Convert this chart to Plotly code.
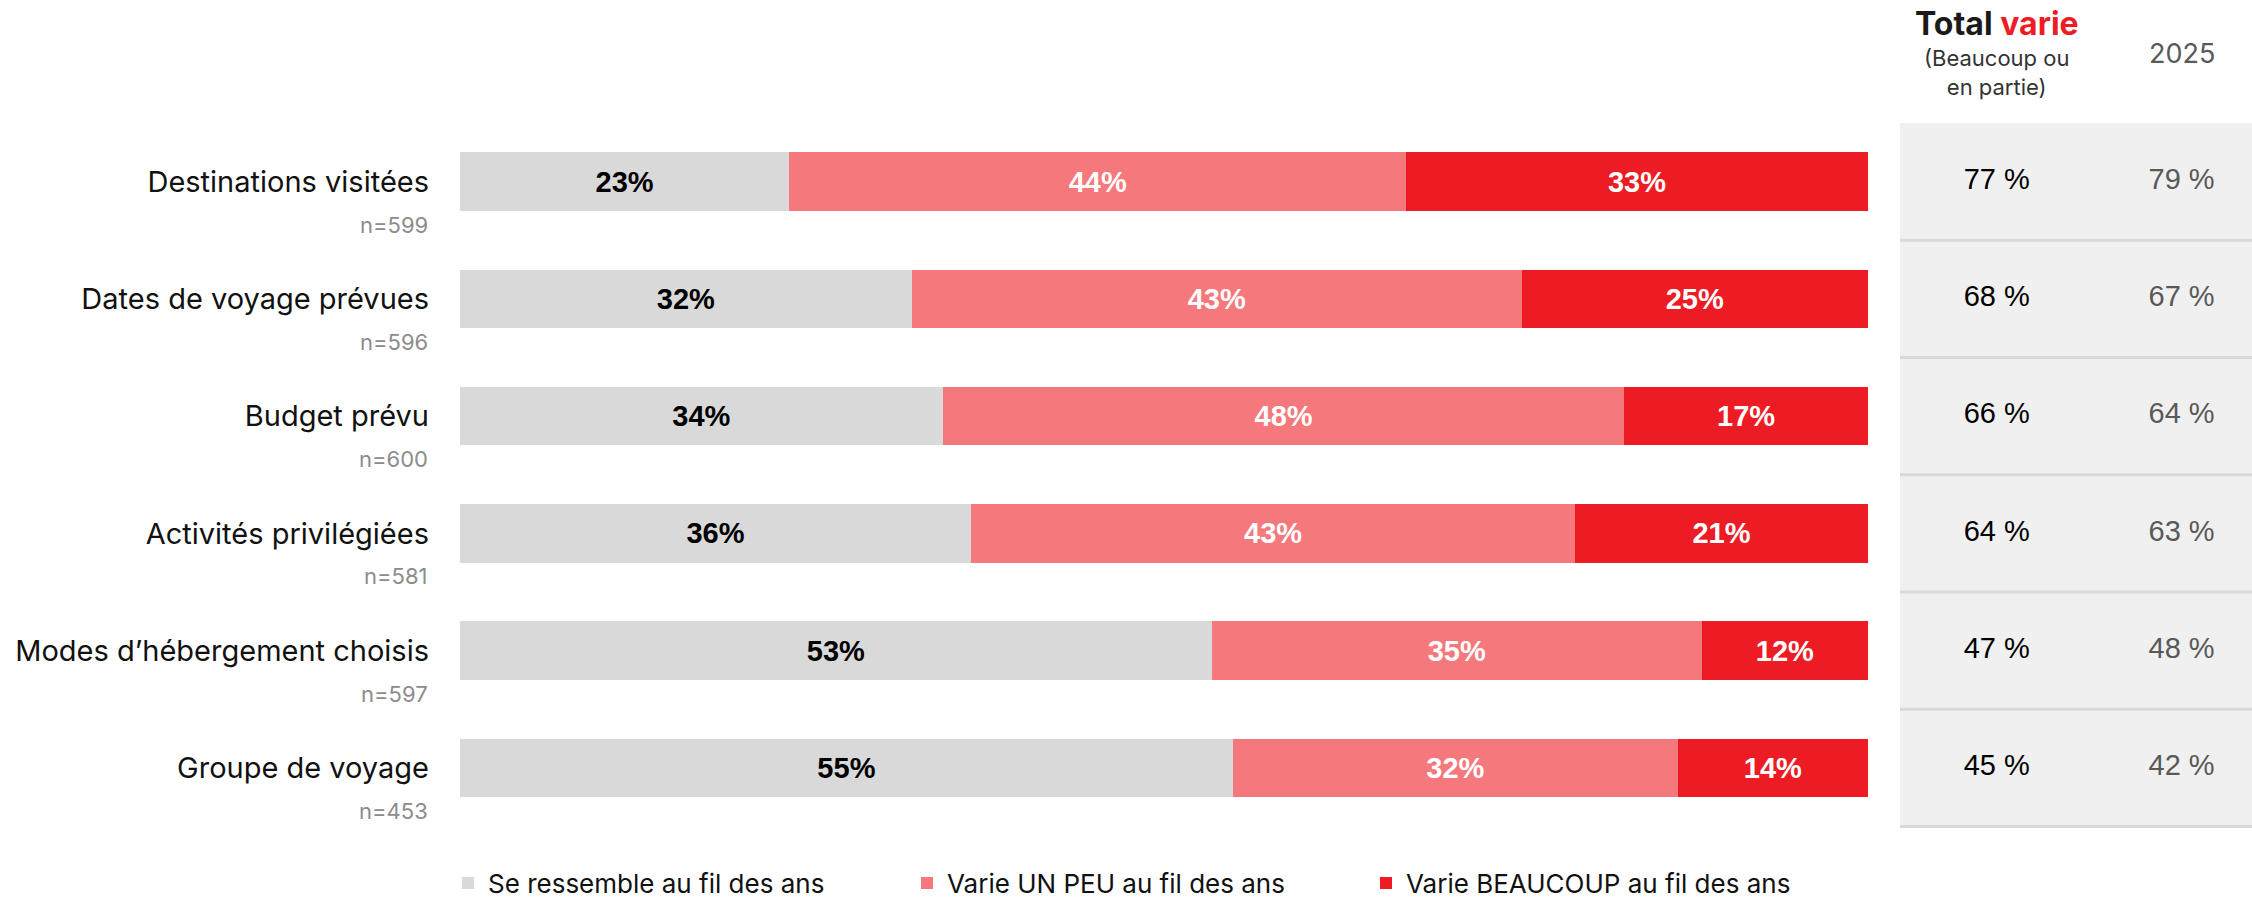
import plotly.graph_objects as go

W, H = 2252, 901
T, B = 123, 73

categories = ["Destinations visitées", "Dates de voyage prévues", "Budget prévu",
              "Activités privilégiées", "Modes d’hébergement choisis", "Groupe de voyage"]
sample_n = ["n=599", "n=596", "n=600", "n=581", "n=597", "n=453"]
se_ressemble = [23.4, 32.1, 34.3, 36.3, 53.4, 54.9]
varie_peu = [43.8, 43.3, 48.4, 42.9, 34.8, 31.6]
varie_beaucoup = [32.8, 24.6, 17.3, 20.8, 11.8, 13.5]
total_varie = [77, 68, 66, 64, 47, 45]
total_2025 = [79, 67, 64, 63, 48, 42]
series_names = ["Se ressemble au fil des ans", "Varie UN PEU au fil des ans",
                "Varie BEAUCOUP au fil des ans"]
colors = ["#d9d9d9", "#f4787c", "#ed1c24"]
text_colors = ["#000000", "#ffffff", "#ffffff"]

LABEL_FONT = "Inter"
NUM_FONT = "Liberation Sans, Arial"


def py(px):
    return (H - B - px) / (H - T - B)


fig = go.Figure()
for vals, name, col, tcol in zip([se_ressemble, varie_peu, varie_beaucoup],
                                 series_names, colors, text_colors):
    fig.add_trace(go.Bar(
        x=vals, y=categories, orientation="h", name=name,
        marker=dict(color=col, line=dict(width=0)),
        texttemplate="<b>%{x:.0f}%</b>", textposition="inside",
        insidetextanchor="middle", constraintext="none",
        textfont=dict(family=NUM_FONT, size=29, color=tcol),
        width=0.5, hoverinfo="skip",
    ))

# table columns
fig.add_trace(go.Scatter(
    x=[0.275] * len(categories), y=categories, mode="text",
    text=[f"{v} %" for v in total_varie], xaxis="x2", yaxis="y",
    textfont=dict(family=NUM_FONT, size=29, color="#000000"),
    showlegend=False, hoverinfo="skip"))
fig.add_trace(go.Scatter(
    x=[0.80] * len(categories), y=categories, mode="text",
    text=[f"{v} %" for v in total_2025], xaxis="x2", yaxis="y",
    textfont=dict(family=NUM_FONT, size=29, color="#595959"),
    showlegend=False, hoverinfo="skip"))

shapes = [dict(type="rect", xref="x2 domain", yref="y domain", x0=0, x1=1, y0=0, y1=1,
               fillcolor="#f0f0f0", line=dict(width=0), layer="below")]
for i in range(len(categories)):
    shapes.append(dict(type="line", xref="x2 domain", yref="y", x0=0, x1=1,
                       y0=i + 0.5, y1=i + 0.5, line=dict(color="#d9d9d9", width=3),
                       layer="below"))

annotations = []
for c, n in zip(categories, sample_n):
    annotations.append(dict(x=430 / W, xref="paper", xanchor="right", y=c, yref="y",
                            yshift=-43, text=n, showarrow=False,
                            font=dict(family=LABEL_FONT, size=22, color="#8c8c8c")))
annotations += [
    dict(x=0.275, xref="x2", y=py(23), yref="paper", yanchor="middle", showarrow=False,
         text="<b>Total <span style='color:#ee1c25'>varie</span></b>",
         font=dict(family=LABEL_FONT, size=32, color="#1a1a1a")),
    dict(x=0.275, xref="x2", y=py(72), yref="paper", yanchor="middle", showarrow=False,
         text="(Beaucoup ou<br>en partie)",
         font=dict(family=LABEL_FONT, size=22, color="#333333")),
    dict(x=0.80, xref="x2", y=py(53), yref="paper", yanchor="middle", showarrow=False,
         text="2025", font=dict(family=LABEL_FONT, size=27, color="#595959")),
]

fig.update_layout(
    width=W, height=H, barmode="stack", bargap=0.5,
    margin=dict(l=0, r=0, t=T, b=B, autoexpand=False),
    plot_bgcolor="white", paper_bgcolor="white",
    xaxis=dict(domain=[460 / W, 1868 / W], range=[0, 100], visible=False, fixedrange=True),
    xaxis2=dict(domain=[1900 / W, 1], range=[0, 1], visible=False, anchor="y"),
    yaxis=dict(categoryorder="array", categoryarray=categories, autorange="reversed",
               showgrid=False, zeroline=False, showline=False, ticks="",
               ticklabelstandoff=30, automargin=False,
               tickfont=dict(family=LABEL_FONT, size=29, color="#111111")),
    legend=dict(orientation="h", x=448 / W, xanchor="left", y=py(883), yanchor="middle",
                font=dict(family=LABEL_FONT, size=26, color="#111111"),
                entrywidth=414, traceorder="normal", itemclick=False),
    shapes=shapes, annotations=annotations,
    showlegend=True,
)

fig.write_html("out.html", config={"displayModeBar": False},
               post_script="document.body.style.margin='0';document.body.style.overflow='hidden';")
